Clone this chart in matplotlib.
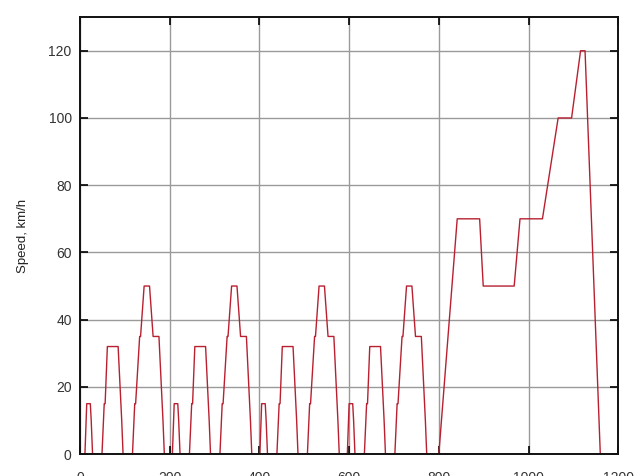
#!/usr/bin/env python3
"""NEDC style speed profile: four urban cycles followed by the extra-urban part."""

import matplotlib.pyplot as plt
import numpy as np

plt.rcParams["font.family"] = ["Liberation Sans", "DejaVu Sans"]

# One urban cycle (time in s, speed in km/h), repeated at these start times
ece_time = [0, 11, 15, 23, 25, 28, 49, 54, 56, 61, 85, 93, 96, 117, 122, 124,
            133, 135, 143, 155, 163, 176, 185, 188, 195]
ece_speed = [0, 0, 15, 15, 10, 0, 0, 15, 15, 32, 32, 10, 0, 0, 15, 15,
             35, 35, 50, 50, 35, 35, 10, 0, 0]
ece_starts = [0, 195, 390, 585]

# Extra-urban part, starts at 780 s
eudc_start = 780
eudc_time = [0, 20, 61, 111, 119, 188, 201, 251,
             286, 316, 336, 346, 380]
eudc_speed = [0, 0, 70, 70, 50, 50, 70, 70,
              100, 100, 120, 120, 0]

x_ticks = [0, 200, 400, 600, 800, 1000, 1200]
y_ticks = [0, 20, 40, 60, 80, 100, 120]

t_all = [np.array(ece_time) + s for s in ece_starts]
t_all.append(np.array(eudc_time) + eudc_start)
v_all = [np.array(ece_speed)] * len(ece_starts) + [np.array(eudc_speed)]
t = np.concatenate(t_all)
v = np.concatenate(v_all)

fig = plt.figure(figsize=(6.4, 4.76), dpi=100)
ax = fig.add_axes([0.125, 0.046, 0.841, 0.918])

ax.plot(t, v, color="#b82030", linewidth=1.0)

ax.set_xlim(0, 1200)
ax.set_ylim(0, 130)
ax.set_xticks(x_ticks)
ax.set_yticks(y_ticks)
ax.grid(True, color="#9a9a9a", linewidth=1.0)
ax.set_axisbelow(True)
ax.tick_params(direction="in", length=6, width=1.2, top=True, right=True,
               labelsize=10, labelcolor="#333333", pad=6)
ax.tick_params(axis="x", pad=12)
for sp in ax.spines.values():
    sp.set_linewidth(1.4)
    sp.set_color("#111111")
ax.set_ylabel("Speed, km/h", fontsize=9.5, labelpad=14, color="#222222")

fig.savefig("out.png", dpi=100)
